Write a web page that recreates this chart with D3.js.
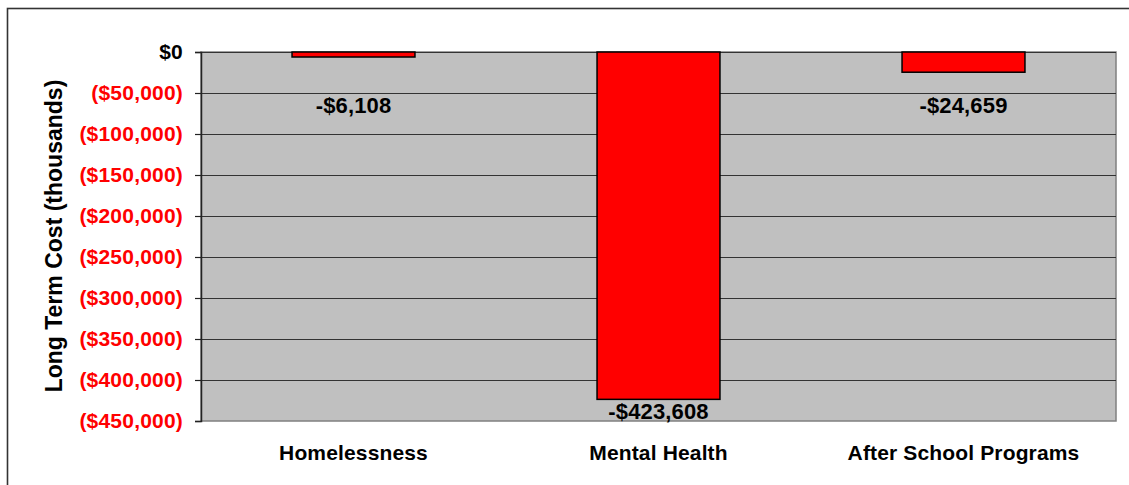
<!DOCTYPE html>
<html><head><meta charset="utf-8">
<script src="https://cdn.jsdelivr.net/npm/d3@7/dist/d3.min.js"></script>
<style>body{margin:0;background:#fff;}text{font-family:"Liberation Sans",Arial,sans-serif;font-weight:bold;}</style>
</head><body><svg id="c" width="1129" height="485"></svg>
<script>
const categories = ["Homelessness", "Mental Health", "After School Programs"];
const values = [-6108, -423608, -24659];
const valueLabels = ["-$6,108", "-$423,608", "-$24,659"];
const tickValues = [0, -50000, -100000, -150000, -200000, -250000, -300000, -350000, -400000, -450000];
const tickLabels = ["$0", "($50,000)", "($100,000)", "($150,000)", "($200,000)", "($250,000)", "($300,000)", "($350,000)", "($400,000)", "($450,000)"];
const yTitle = "Long Term Cost (thousands)";

const svg = d3.select("#c");
const L = 201, R = 1116, T = 52, B = 421;

// outer frame
svg.append("rect").attr("x", 7.5).attr("y", 8.5).attr("width", 1140).attr("height", 500)
  .attr("fill", "none").attr("stroke", "#333").attr("stroke-width", 1.6);

const x = d3.scaleBand().domain(categories).range([L, R]).paddingInner(0.597).paddingOuter(0.2985);
const y = d3.scaleLinear().domain([0, -450000]).range([T, B]);

// plot area
svg.append("rect").attr("x", L).attr("y", T).attr("width", R - L).attr("height", B - T)
  .attr("fill", "#c0c0c0").attr("stroke", "#808080").attr("stroke-width", 1.5);

// gridlines
svg.append("g").selectAll("line").data(tickValues.slice(1, -1)).join("line")
  .attr("x1", L).attr("x2", R).attr("y1", d => Math.round(y(d)) + 0.5).attr("y2", d => Math.round(y(d)) + 0.5)
  .attr("stroke", "#333").attr("stroke-width", 1);
svg.append("line").attr("x1", L).attr("x2", R).attr("y1", T + 0.5).attr("y2", T + 0.5).attr("stroke", "#333");

// y axis
const yAxis = d3.axisLeft(y).tickValues(tickValues).tickSize(6).tickPadding(12)
  .tickFormat((d, i) => tickLabels[i]);
const ga = svg.append("g").attr("transform", `translate(${L},0)`).call(yAxis);
ga.select(".domain").attr("stroke", "#222").attr("stroke-width", 1.5);
ga.selectAll(".tick line").attr("stroke", "#222").attr("stroke-width", 1.2);
ga.selectAll(".tick text").attr("font-size", 21).attr("letter-spacing", 0.2)
  .attr("font-family", '"Liberation Sans",Arial,sans-serif')
  .attr("font-weight", "bold").attr("fill", (d, i) => i === 0 ? "#000" : "#ff0000");

// bars
svg.append("g").selectAll("rect").data(values).join("rect")
  .attr("x", (d, i) => x(categories[i])).attr("width", x.bandwidth())
  .attr("y", d => y(0)).attr("height", d => y(d) - y(0))
  .attr("fill", "#ff0000").attr("stroke", "#000").attr("stroke-width", 1.5);

// value labels
svg.append("g").selectAll("text").data(values).join("text")
  .attr("x", (d, i) => x(categories[i]) + x.bandwidth() / 2)
  .attr("y", d => Math.max(y(d), y(-50000)) + 19.5)
  .attr("text-anchor", "middle").attr("font-size", 22).attr("letter-spacing", 0.15).attr("fill", "#000")
  .text((d, i) => valueLabels[i]);

// x axis labels
const xAxis = d3.axisBottom(x).tickSize(0).tickPadding(24);
const gx = svg.append("g").attr("transform", `translate(0,${B})`).call(xAxis);
gx.select(".domain").remove();
gx.selectAll(".tick text").attr("font-size", 21).attr("letter-spacing", 0.15)
  .attr("font-family", '"Liberation Sans",Arial,sans-serif')
  .attr("font-weight", "bold").attr("fill", "#000");

// y title
svg.append("text").attr("transform", `translate(62,236) rotate(-90)`)
  .attr("text-anchor", "middle").attr("font-size", 23).attr("fill", "#000").text(yTitle);
</script></body></html>
